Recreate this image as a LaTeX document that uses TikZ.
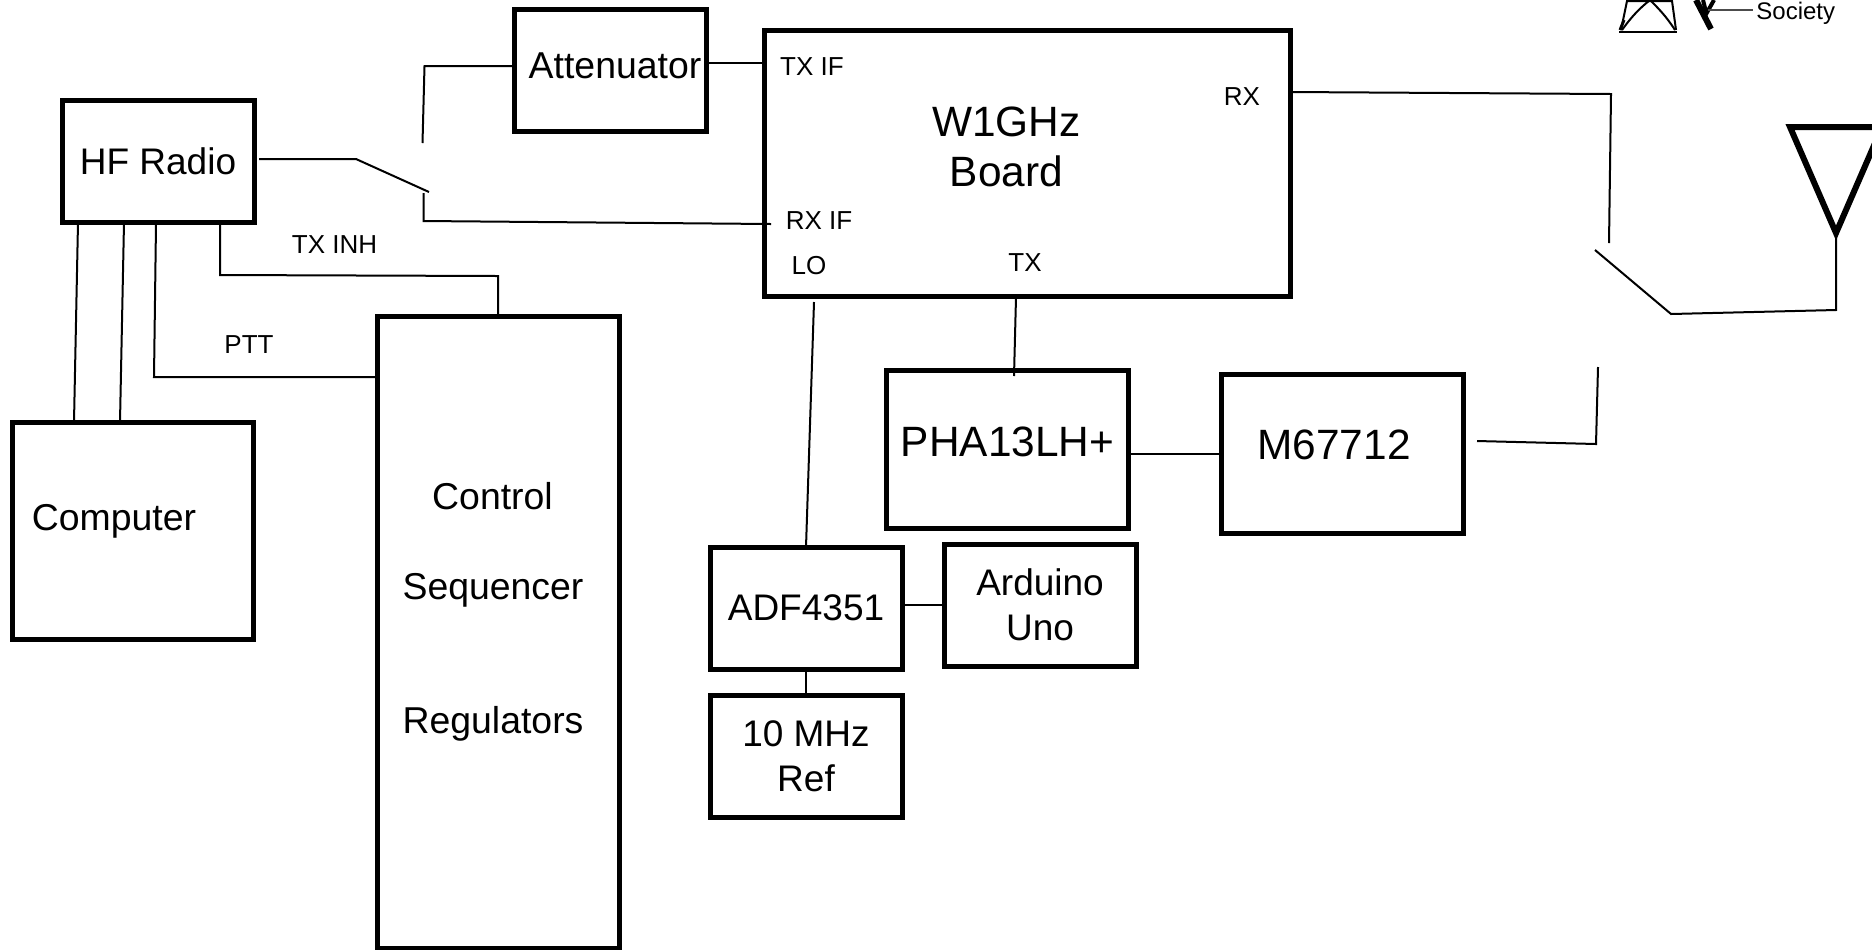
\documentclass[tikz,border=0pt]{standalone}
\usepackage{fontspec}
\setmainfont{Liberation Sans}
\usetikzlibrary{positioning}

\begin{document}
\begin{tikzpicture}[
        x=0.5pt, y=-0.5pt,
        box/.style={draw=black, line width=2.5pt, fill=white, outer sep=0pt, inner sep=0pt,
                    align=center, font=\fontsize{18.5}{22.7}\selectfont},
        portlab/.style={inner sep=0pt, font=\fontsize{13}{15}\selectfont},
        boxlab/.style={inner sep=0pt, align=center, font=\fontsize{18.7}{22.7}\selectfont},
        biglab/.style={inner sep=0pt, align=center, font=\fontsize{21.2}{25}\selectfont},
        wire/.style={line width=1pt, line join=miter}
    ]
        \useasboundingbox (0,0) rectangle (1872,949);
        % left side
        \node[box, minimum width=96pt, minimum height=61pt] (hf) at (158,161.5) {HF Radio};
        \node[box, minimum width=120.5pt, minimum height=108.5pt] (comp) at (132.5,530.5) {};
        \node[boxlab] (complab) at (114,521.5) {Computer};
        \node[box, minimum width=121pt, minimum height=316pt] (ctrl) at (498,632) {};
        \node[boxlab] (ctrllab) at (492.5,496) {Control};
        \node[boxlab] (seqlab) at (493,590) {Sequencer};
        \node[boxlab] (reglab) at (493,723.5) {Regulators};
        \node[box, minimum width=96pt, minimum height=61pt] (att) at (610,70) {};
        \node[boxlab] (attlab) at (615,66) {Attenuator};
        % board and power amps
        \node[box, minimum width=263pt, minimum height=133pt] (board) at (1027,163) {};
        \node[biglab] (boardlab) at (1006.5,147) {W1GHz\\Board};
        \node[box, minimum width=121pt, minimum height=79pt] (pha) at (1007,449) {};
        \node[biglab] (phalab) at (1007.5,441.5) {PHA13LH+};
        \node[box, minimum width=121pt, minimum height=79.5pt] (pa) at (1342.5,453.5) {};
        \node[biglab] (palab) at (1334,444.5) {M67712};
        % synth chain
        \node[box, minimum width=96pt, minimum height=61pt] (adf) at (806,608) {ADF4351};
        \node[box, minimum width=96pt, minimum height=61pt, right=21pt of adf, yshift=1.5pt] (uno) {Arduino\\Uno};
        \node[box, minimum width=96pt, minimum height=61pt, below=13pt of adf] (ref) {10 MHz\\Ref};
        % port labels
        \node[portlab] (txif) at (812,67) {TX IF};
        \node[portlab] (rxif) at (819,221) {RX IF};
        \node[portlab] (lo) at (809,266) {LO};
        \node[portlab] (tx) at (1025,263) {TX};
        \node[portlab] (rx) at (1242,97) {RX};
        \node[portlab] (txinh) at (334.5,244.5) {TX INH};
        \node[portlab] (ptt) at (249,344.5) {PTT};
        % switch points
        \coordinate (ifarm) at (429,192);
        \coordinate (ifrx) at (423.5,193);
        \coordinate (iftx) at (422.5,143);
        \coordinate (rfrx) at (1609,243);
        \coordinate (rftx) at (1598,367);
        \coordinate (rfarm) at (1595,250);
        % antenna
        \draw[line width=3pt, line join=miter] (1790,127) -- (1836,233) -- (1882,127) -- cycle;
        % wires
        \draw[wire] (259,159) -- (356,159) -- (ifarm);
        \draw[wire] (ifrx) -- (423.5,221) -- (771,224);
        \draw[wire] (iftx) -- (424.5,66) -- (att.west |- 0,66);
        \draw[wire] (att.east |- 0,63) -- (board.west |- 0,63);
        \draw[wire] ([xshift=-40pt]hf.south) -- ([xshift=31pt]comp.north west);
        \draw[wire] ([xshift=-17pt]hf.south) -- ([xshift=54pt]comp.north west);
        \draw[wire] (156,224) -- (154,377) -- (ctrl.west |- 0,377);
        \draw[wire] (220,224) -- (220,275) -- (498,276) -- (ctrl.north);
        \draw[wire] (814,302) -- (adf.north);
        \draw[wire] (1016,297) -- (1014,376);
        \draw[wire] (pha.east |- 0,454) -- (pa.west |- 0,454);
        \draw[wire] ([yshift=1.5pt]adf.east) -- (uno.west);
        \draw[wire] (adf.south) -- (ref.north);
        \draw[wire] (board.east |- 0,92) -- (1611,94) -- (rfrx);
        \draw[wire] (rftx) -- (1596,444) -- (1477,441);
        \draw[wire] (rfarm) -- (1671,314) -- (1836,310) -- (1836,233);
        % logo
        \draw[line width=1.2pt] (1619,32) -- (1677,32);
        \draw[line width=1pt] (1621,30) -- (1627,1) -- (1672,1) -- (1676,30);
        \draw[line width=1.5pt] (1620,30) -- (1624,20);
        \draw[line width=1pt] (1622,30) .. controls (1632,16) and (1640,8) .. (1650,0);
        \draw[line width=1pt] (1675,30) .. controls (1666,16) and (1658,8) .. (1650,0);
        \draw[line width=3pt] (1696,0) -- (1711,29);
        \draw[line width=2pt] (1714,0) -- (1705,16) (1703,0) -- (1706,12);
        \draw[line width=1pt, black!70] (1708,10) -- (1753,10);
        \node[portlab, font=\fontsize{12}{14}\selectfont, anchor=west] (society) at (1756,13) {Society};
    \end{tikzpicture}
\end{document}
